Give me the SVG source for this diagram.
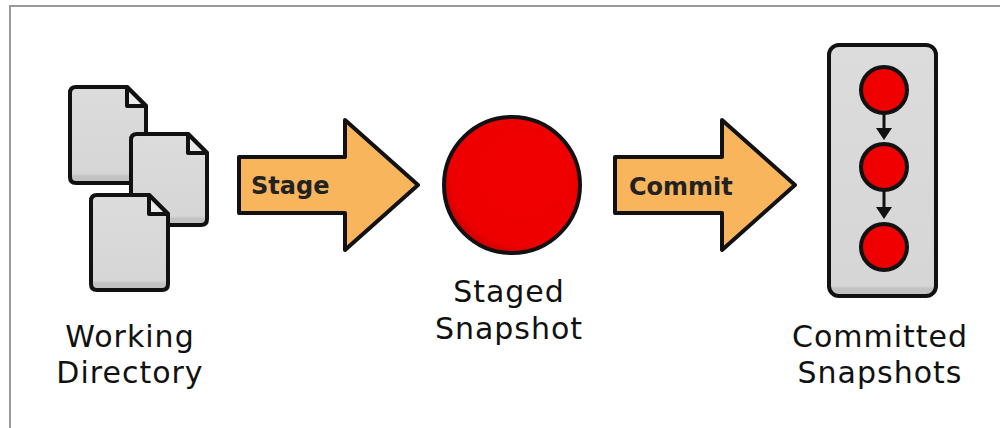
<svg xmlns="http://www.w3.org/2000/svg" width="1000" height="428" viewBox="0 0 1000 428">
  <defs>
    <linearGradient id="grayFill" x1="0" y1="0" x2="0" y2="1">
      <stop offset="0" stop-color="#dcdcdc"/>
      <stop offset="0.9" stop-color="#d6d6d6"/>
      <stop offset="0.93" stop-color="#c2c2c2"/>
      <stop offset="1" stop-color="#c2c2c2"/>
    </linearGradient>
    <linearGradient id="panelFill" x1="0" y1="0" x2="0" y2="1">
      <stop offset="0" stop-color="#dcdcdc"/>
      <stop offset="0.96" stop-color="#d6d6d6"/>
      <stop offset="0.97" stop-color="#c2c2c2"/>
      <stop offset="1" stop-color="#c2c2c2"/>
    </linearGradient>
    <radialGradient id="redFill" cx="0.58" cy="0.42" r="0.62">
      <stop offset="0" stop-color="#f20000"/>
      <stop offset="0.85" stop-color="#ee0000"/>
      <stop offset="1" stop-color="#c80000"/>
    </radialGradient>
  </defs>
  <style>
    .outline { stroke: #111; stroke-width: 4; stroke-linejoin: round; }
    .doc { fill: url(#grayFill); }
    .panel { fill: url(#panelFill); }
    .fold { fill: #ececec; }
    .arrow { fill: #f8b55c; }
    .red { fill: url(#redFill); }
    .label { font-family: "DejaVu Sans", "Liberation Sans", sans-serif; font-size: 30px; letter-spacing: 1px; fill: #111; text-anchor: middle; }
    .alabel { font-family: "DejaVu Sans", "Liberation Sans", sans-serif; font-size: 24px; font-weight: bold; fill: #222; }
    .conn { stroke: #111; stroke-width: 3; fill: none; }
    .head { fill: #111; }
  </style>
  <rect x="0" y="0" width="1000" height="428" fill="#ffffff"/>
  <path d="M10,428 L10,6 L1000,6" fill="none" stroke="#999" stroke-width="2"/>

  <g id="working-directory">
    <g id="doc1">
      <path class="doc outline" d="M75,87 L127,87 L146,106 L146,177 Q146,183 140,183 L76,183 Q70,183 70,177 L70,93 Q70,87 76,87 Z"/>
      <path class="fold outline" d="M127,87 L127,106 L146,106 Z"/>
    </g>
    <g id="doc2">
      <path class="doc outline" d="M137,134 L188,134 L207,153 L207,219 Q207,225 201,225 L137,225 Q131,225 131,219 L131,140 Q131,134 137,134 Z"/>
      <path class="fold outline" d="M188,134 L188,153 L207,153 Z"/>
    </g>
    <g id="doc3">
      <path class="doc outline" d="M97,195 L149,195 L168,214 L168,284 Q168,290 162,290 L97,290 Q91,290 91,284 L91,201 Q91,195 97,195 Z"/>
      <path class="fold outline" d="M149,195 L149,214 L168,214 Z"/>
    </g>
    <text class="label" x="130" y="347">Working</text>
    <text class="label" x="130" y="383">Directory</text>
  </g>

  <g id="stage-arrow">
    <path class="arrow outline" d="M239,157 L345,157 L345,120 L418,185 L345,250 L345,213 L239,213 Z"/>
    <text class="alabel" x="251" y="194">Stage</text>
  </g>

  <g id="staged-snapshot">
    <circle class="red outline" cx="512" cy="185" r="68"/>
    <text class="label" x="509" y="302">Staged</text>
    <text class="label" x="509" y="339">Snapshot</text>
  </g>

  <g id="commit-arrow">
    <path class="arrow outline" d="M615,157 L722,157 L722,120 L795,185 L722,250 L722,213 L615,213 Z"/>
    <text class="alabel" x="629" y="195">Commit</text>
  </g>

  <g id="committed-snapshots">
    <rect class="panel outline" x="829" y="45" width="107" height="251" rx="10" ry="10"/>
    <g id="commit1"><circle class="red outline" cx="884" cy="90" r="23"/></g>
    <g id="commit2"><circle class="red outline" cx="884" cy="167" r="23"/></g>
    <g id="commit3"><circle class="red outline" cx="884" cy="247" r="23"/></g>
    <text class="label" x="880" y="347">Committed</text>
    <text class="label" x="880" y="383">Snapshots</text>
  </g>

  <g id="connectors">
    <line class="conn" x1="884" y1="114" x2="884" y2="130"/>
    <polygon class="head" points="876,128 892,128 884,140"/>
    <line class="conn" x1="884" y1="191" x2="884" y2="209"/>
    <polygon class="head" points="876,207 892,207 884,219"/>
  </g>
</svg>
